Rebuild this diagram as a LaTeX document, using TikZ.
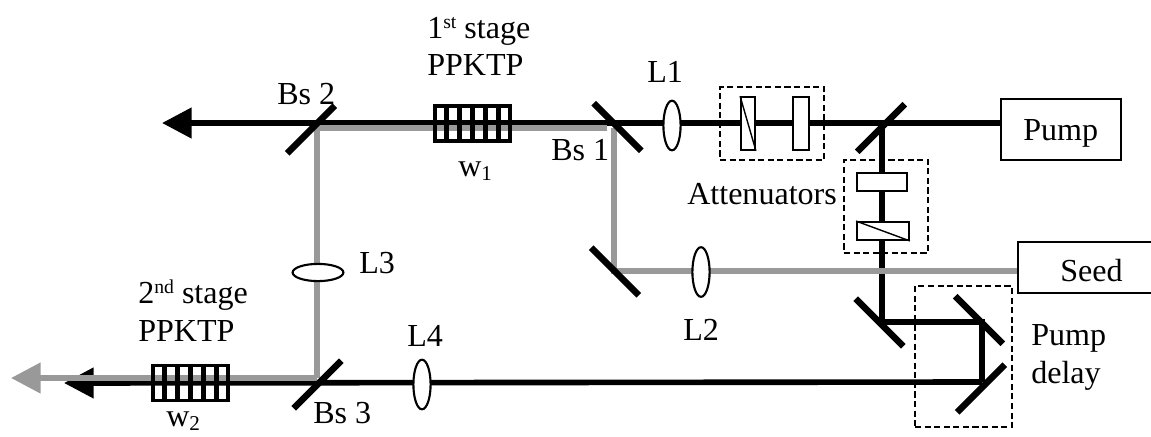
\documentclass[tikz,border=0pt]{standalone}
\usepackage{fontspec}
\setmainfont{Liberation Serif}
\usetikzlibrary{arrows.meta,backgrounds,calc,shapes.geometric}
\definecolor{seedgray}{RGB}{153,153,153}
\tikzset{
    lab/.style={anchor=base west,inner sep=0pt,font=\fontsize{22.8}{27}\selectfont},
    mirror/.style={fill=black,inner sep=0pt,minimum width=1.68cm,minimum height=0.16cm},
    lens/.style={ellipse,draw,line width=1.5pt,fill=white,inner sep=0pt,minimum width=0.43cm,minimum height=1.24cm},
    crystal/.style={draw,line width=2.6pt,inner sep=0pt,minimum width=1.86cm,minimum height=0.88cm},
    optic/.style={draw,line width=1.3pt,fill=white,inner sep=0pt},
    source/.style={draw,line width=1.3pt,inner sep=0pt},
    stagebox/.style={draw,dash pattern=on 4.3pt off 2.5pt,line width=1pt,inner sep=0pt},
    pumpbeam/.style={black,line width=4pt},
    seedbeam/.style={seedgray,line width=4pt}
}
\newcommand{\crystalbars}[1]{
    \foreach \i in {1,...,5}
        \draw[line width=4pt] ($(#1.north west)!\i/6!(#1.north east)$) -- ($(#1.south west)!\i/6!(#1.south east)$);
}
\newcommand{\upidx}[1]{\raisebox{6.5pt}{\fontsize{14}{16}\selectfont #1}}
\newcommand{\lowidx}[1]{\raisebox{-3pt}{\fontsize{15}{16}\selectfont #1}}
\begin{document}
\begin{tikzpicture}[x=0.025cm,y=-0.025cm]
    \useasboundingbox (0,0) rectangle (1151,436);
    %Sources
    \node[source,minimum width=3cm,minimum height=1.52cm] (pump) at (1061,129.5) {};
    \node[source,minimum width=3.55cm,minimum height=1.28cm] (seed) at (1089,267.5) {};
    %Mirrors
    \node[mirror,rotate=45] (bs2) at (311,129.5) {};
    \node[mirror,rotate=-45] (bs1) at (617.5,127) {};
    \node[mirror,rotate=45] (bs3) at (317.5,384.5) {};
    \node[mirror,rotate=45] (split) at (881,128) {};
    \node[mirror,rotate=-45] (seedmirror) at (615,271.5) {};
    \node[mirror,rotate=-45] (foldmirror) at (879.5,322.5) {};
    \node[mirror,rotate=-45] (delaytop) at (979,320) {};
    \node[mirror,rotate=45] (delaybot) at (981,388.5) {};
    %Lenses
    \node[lens] (lensa) at (672,125.5) {};
    \node[lens] (lensb) at (701,272) {};
    \node[lens,rotate=90,minimum height=1.27cm] (lensc) at (318,272.5) {};
    \node[lens] (lensd) at (422,384.5) {};
    %Crystals
    \node[crystal] (ppktpa) at (472.5,123.5) {};
    \node[crystal] (ppktpb) at (190.5,383) {};
    \crystalbars{ppktpa}
    \crystalbars{ppktpb}
    %Attenuators
    \node[optic,minimum width=0.35cm,minimum height=1.32cm] (wedgea) at (748,123.5) {};
    \draw[line width=1pt] (wedgea.north west) -- (wedgea.south east);
    \node[optic,minimum width=0.4cm,minimum height=1.32cm] (platea) at (801,123.5) {};
    \node[optic,minimum width=1.25cm,minimum height=0.45cm] (plateb) at (882,182) {};
    \node[optic,minimum width=1.3cm,minimum height=0.45cm] (wedgeb) at (883,231) {};
    \draw[line width=1pt] (wedgeb.north west) -- (wedgeb.south east);
    %Dashed boxes
    \node[stagebox,minimum width=2.6cm,minimum height=1.82cm] (boxa) at (772,123.5) {};
    \node[stagebox,minimum width=2.1cm,minimum height=2.32cm] (boxb) at (886,206.5) {};
    \node[stagebox,minimum width=2.42cm,minimum height=3.52cm] (boxc) at (963.5,356.5) {};
    %Beam corners and free ends
    \coordinate (topend) at (162,123);
    \coordinate (lowend) at (64,383);
    \coordinate (grayend) at (11,378);
    \coordinate (foldcorner) at (882,322);
    \coordinate (delaycorner) at (982,322);
    \coordinate (lowcorner) at (982,382);
    \coordinate (splitcorner) at (882,123);
    \coordinate (bsonecorner) at (614,128);
    \coordinate (bsonestop) at (607,128);
    \coordinate (bstwocorner) at (317,128);
    \coordinate (bsthreecorner) at (317,378);
    \coordinate (seedcorner) at (614,271);
    \begin{scope}[on background layer]
        %Pump
        \draw[pumpbeam,-{Triangle[length=21pt,width=21pt]}] (pump.west |- splitcorner) -- (topend);
        \draw[pumpbeam] (splitcorner) -- (foldcorner) -- (delaycorner) -- (lowcorner);
        \draw[pumpbeam,-{Triangle[length=21pt,width=21pt]}] (lowcorner) -- (lowend);
        %Seed
        \draw[seedbeam] (seed.west |- seedcorner) -- (seedcorner) -- (bsonecorner);
        \draw[seedbeam] (bsonestop) -- (bstwocorner) -- (bsthreecorner);
        \draw[seedbeam,-{Triangle[length=21pt,width=21pt]}] (bsthreecorner) -- (grayend);
    \end{scope}
    %Labels
    \node[lab] (stagea) at (427,38) {1\upidx{st} stage};
    \node[lab] (ppktplaba) at (427,75) {PPKTP};
    \node[lab] (stageb) at (138,303) {2\upidx{nd} stage};
    \node[lab] (ppktplabb) at (138,341) {PPKTP};
    \node[lab] (waista) at (458,176) {w\lowidx{1}};
    \node[lab] (waistb) at (166,426) {w\lowidx{2}};
    \node[lab] (bstwolab) at (277,104) {Bs 2};
    \node[lab] (bsonelab) at (551,160) {Bs 1};
    \node[lab] (bsthreelab) at (313,423) {Bs 3};
    \node[lab] (lalab) at (647,82) {L1};
    \node[lab] (lblab) at (683,340) {L2};
    \node[lab] (lclab) at (359,273) {L3};
    \node[lab] (ldlab) at (407,346) {L4};
    \node[lab] (attlab) at (687,204) {Attenuators};
    \node[lab] (pumplab) at (1023,140) {Pump};
    \node[lab] (seedlab) at (1060,281) {Seed};
    \node[lab] (delaya) at (1031,345) {Pump};
    \node[lab] (delayb) at (1031,383) {delay};
\end{tikzpicture}
\end{document}
